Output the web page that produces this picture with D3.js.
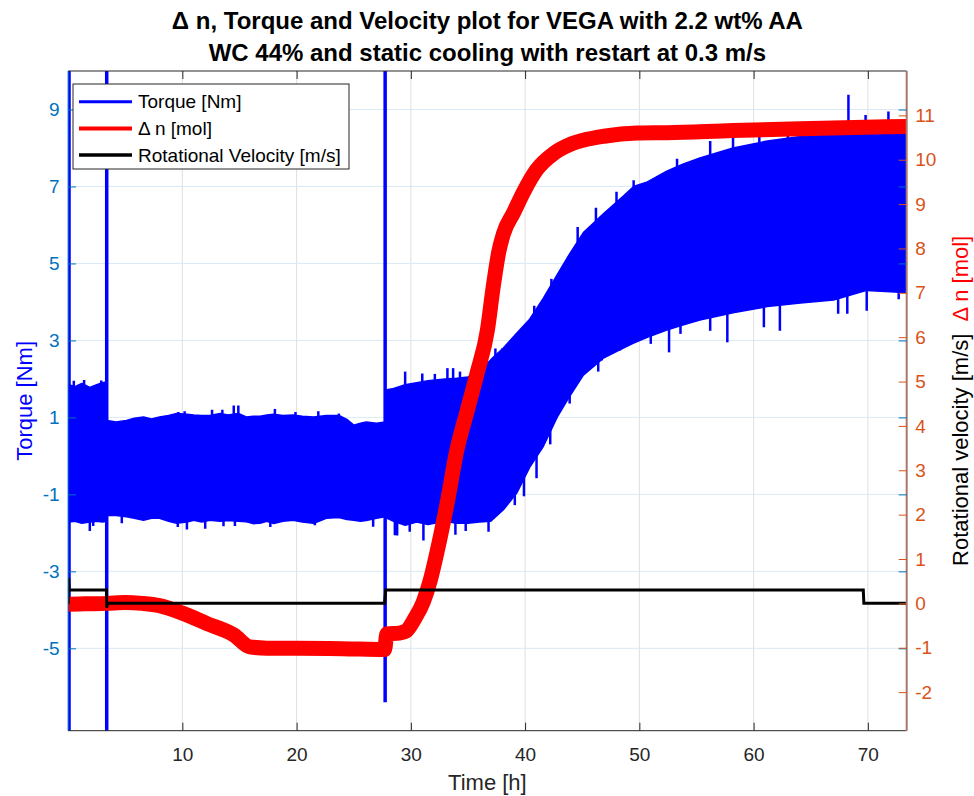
<!DOCTYPE html>
<html>
<head>
<meta charset="utf-8">
<script src="https://cdn.jsdelivr.net/npm/d3@7.9.0/dist/d3.min.js"></script>
<style>
  html, body { margin: 0; padding: 0; background: #fff; }
  svg { display: block; font-family: "Liberation Sans", Arial, sans-serif; }
</style>
</head>
<body>
<svg id="chart" width="974" height="796"></svg>
<script>
// Axis ticks
const timeTicks = [10, 20, 30, 40, 50, 60, 70];
const torqueTicks = [-5, -3, -1, 1, 3, 5, 7, 9];
const molTicks = [-2, -1, 0, 1, 2, 3, 4, 5, 6, 7, 8, 9, 10, 11];

// Torque noise band: [time h, low Nm, high Nm]
const torqueBand = [
  [0.08, -1.72, 1.85], [0.6, -1.70, 1.80], [1.2, -1.75, 1.88], [1.9, -1.72, 1.78],
  [2.5, -1.70, 1.85], [3.0, -1.72, 1.90], [3.37, -1.70, 1.92],
  [3.40, -1.55, 0.92], [4.2, -1.55, 0.88], [5.1, -1.58, 0.92], [5.8, -1.62, 0.98],
  [6.6, -1.67, 1.01], [7.3, -1.62, 0.96], [8.0, -1.62, 1.01], [8.8, -1.70, 1.05],
  [9.5, -1.75, 1.10], [10.4, -1.72, 1.08], [11.0, -1.67, 1.06], [11.7, -1.72, 1.05],
  [12.4, -1.67, 1.05], [13.3, -1.70, 1.10], [14.0, -1.68, 1.06], [14.9, -1.70, 1.10],
  [15.6, -1.71, 1.01], [16.2, -1.76, 1.03], [16.8, -1.75, 1.03], [17.4, -1.70, 1.06],
  [18.0, -1.76, 1.08], [18.8, -1.70, 1.05], [19.7, -1.67, 1.06], [20.5, -1.72, 1.03],
  [21.5, -1.75, 1.01], [22.6, -1.62, 1.05], [23.7, -1.60, 1.05], [24.4, -1.65, 0.95],
  [25.0, -1.67, 0.80], [25.6, -1.70, 0.85], [26.1, -1.68, 0.88], [27.0, -1.62, 0.85],
  [27.72, -1.58, 0.88],
  [27.78, -1.60, 1.71], [28.5, -1.70, 1.75], [29.5, -1.80, 1.85], [30.5, -1.72, 1.90],
  [31.5, -1.78, 1.95], [33.0, -1.70, 2.00], [34.0, -1.75, 2.02], [35.0, -1.75, 2.05],
  [36.0, -1.72, 2.20], [37.0, -1.70, 2.50], [38.1, -1.40, 2.80], [39.3, -0.95, 3.20],
  [40.4, -0.30, 3.55], [41.6, 0.25, 4.10], [42.8, 1.00, 4.70], [43.9, 1.55, 5.25],
  [45.1, 2.10, 5.80], [46.9, 2.55, 6.30], [48.6, 2.80, 6.75], [49.5, 2.93, 7.00],
  [50.7, 3.08, 7.12], [52.4, 3.27, 7.40], [53.8, 3.40, 7.58], [55.3, 3.53, 7.74],
  [58.2, 3.72, 8.00], [61.2, 3.88, 8.18], [64.1, 3.97, 8.30], [67.0, 4.05, 8.36],
  [69.9, 4.30, 8.46], [72.8, 4.25, 8.54], [73.4, 4.25, 8.55]
];

// Full-height torque spikes at the start/stop events: [time h, from Nm, to Nm]
const torqueJumps = [[0.08, -9, 12], [3.38, -9, 12], [27.75, -6.4, 12]];

// Tips of single upward torque spikes: [time h, Nm]
const spikesUp = [
  [0.5, 1.95], [1.4, 1.97], [2.9, 1.96], [9.65, 1.14], [10.2, 1.16], [12.6, 1.20],
  [13.5, 1.20], [14.5, 1.31], [14.9, 1.31], [18.1, 1.22], [19.9, 1.14], [21.9, 1.16],
  [23.7, 1.10], [29.5, 2.19], [31.0, 2.14], [32.1, 2.13], [33.2, 2.28], [33.7, 2.28],
  [34.3, 2.19], [37.4, 2.79], [38.0, 2.79], [38.4, 2.89], [39.1, 2.89], [40.8, 3.90],
  [42.3, 4.60], [44.6, 5.95], [46.2, 6.45], [48.0, 6.86], [49.5, 7.16], [53.3, 7.72],
  [56.2, 8.18], [58.2, 8.27], [60.5, 8.40], [63.0, 8.55], [66.0, 8.70], [68.3, 9.38],
  [69.8, 8.86], [71.8, 8.95]
];

// Tips of single downward torque spikes: [time h, Nm]
const spikesDown = [
  [1.9, -1.95], [2.2, -1.82], [4.7, -1.75], [9.6, -1.85], [10.4, -1.91], [12.0, -1.89],
  [13.6, -1.83], [14.6, -1.82], [17.7, -1.85], [21.6, -1.80], [26.7, -1.84],
  [28.6, -2.06], [28.8, -2.07], [29.9, -1.97], [31.1, -2.20], [32.6, -1.95],
  [33.9, -2.05], [34.8, -1.95], [36.8, -1.97], [39.1, -1.28], [39.9, -1.05],
  [41.0, -0.58], [42.2, 0.30], [43.9, 1.36], [44.7, 1.96], [46.4, 2.19], [46.7, 2.48],
  [48.3, 2.74], [51.0, 2.91], [52.6, 2.69], [53.6, 3.17], [56.2, 3.25], [57.7, 2.95],
  [60.9, 3.34], [62.3, 3.25], [67.4, 3.69], [68.2, 3.69], [69.9, 3.77], [72.7, 4.07]
];

// Delta n [mol]: [time h, mol]
const deltaN = [
  [0.0, -0.02], [1.5, -0.01], [3.4, 0.0], [5.0, 0.02], [6.5, 0.0], [8.0, -0.05],
  [10.0, -0.22], [12.1, -0.45], [14.5, -0.71], [15.9, -0.98], [17.4, -1.01],
  [20.0, -1.01], [24.0, -1.02], [27.7, -1.04], [27.9, -0.69], [29.0, -0.67],
  [29.6, -0.62], [30.3, -0.36], [31.1, 0.04], [31.7, 0.52], [32.3, 1.17],
  [33.2, 2.29], [34.0, 3.42], [34.9, 4.31], [35.8, 5.19], [36.7, 6.16], [37.2, 7.12],
  [37.7, 7.93], [38.1, 8.33], [39.0, 8.81], [39.9, 9.29], [41.0, 9.77], [42.5, 10.14],
  [43.9, 10.34], [45.4, 10.46], [46.9, 10.53], [49.8, 10.60], [52.4, 10.61],
  [58.2, 10.66], [64.1, 10.70], [73.4, 10.75]
];

// Rotational velocity [m/s]: [time h, m/s]
const velocity = [
  [0.0, -0.02], [0.05, 0.57], [0.1, 0.3], [3.36, 0.3], [3.38, -0.1], [3.45, 0.0],
  [27.7, 0.0], [27.8, 0.3], [69.6, 0.3], [69.65, 0.0], [73.4, 0.0]
];

const legendItems = [
  { label: 'Torque [Nm]', color: '#0000ff', w: 3 },
  { label: '\u0394 n [mol]', color: '#ff0000', w: 4 },
  { label: 'Rotational Velocity [m/s]', color: '#000000', w: 3.5 }
];

const width = 974;
const height = 796;
const margin = { top: 71, right: 67.3, bottom: 65.3, left: 68.1 };

const blueAxis = '#0072bd';
const orangeAxis = '#d95319';
const dark = '#262626';
const fmt = (d) => String(d); // plain hyphen minus like the original

const svg = d3.select('#chart');

const x = d3.scaleLinear().domain([0, 73.4]).range([margin.left, width - margin.right]);
const yL = d3.scaleLinear().domain([-7.14, 10]).range([height - margin.bottom, margin.top]);
const yR = d3.scaleLinear().domain([-2.87, 12]).range([height - margin.bottom, margin.top]);

const x0 = margin.left, x1 = width - margin.right;
const y0 = margin.top, y1 = height - margin.bottom;

svg.append('defs').append('clipPath').attr('id', 'plot-clip')
  .append('rect').attr('x', x0).attr('y', y0).attr('width', x1 - x0).attr('height', y1 - y0);

// Grid
const grid = svg.append('g');
grid.selectAll('line.vx').data(timeTicks).join('line')
  .attr('x1', (d) => x(d)).attr('x2', (d) => x(d)).attr('y1', y0).attr('y2', y1)
  .attr('stroke', '#dfdfdf').attr('stroke-width', 1);
grid.selectAll('line.hy').data(torqueTicks).join('line')
  .attr('x1', x0).attr('x2', x1).attr('y1', (d) => yL(d)).attr('y2', (d) => yL(d))
  .attr('stroke', '#d9eaf5').attr('stroke-width', 1);

// Data
const plot = svg.append('g').attr('clip-path', 'url(#plot-clip)');

plot.append('path')
  .datum(torqueBand)
  .attr('d', d3.area().x((d) => x(d[0])).y0((d) => yL(d[1])).y1((d) => yL(d[2])))
  .attr('fill', '#0000ff')
  .attr('stroke', '#0000ff').attr('stroke-width', 1.5).attr('stroke-linejoin', 'round');

plot.selectAll('line.up').data(spikesUp).join('line')
  .attr('x1', (d) => x(d[0])).attr('x2', (d) => x(d[0]))
  .attr('y1', (d) => yL(d[1])).attr('y2', (d) => yL(d[1] - 1))
  .attr('stroke', '#0000ff').attr('stroke-width', 2.5);

plot.selectAll('line.down').data(spikesDown).join('line')
  .attr('x1', (d) => x(d[0])).attr('x2', (d) => x(d[0]))
  .attr('y1', (d) => yL(d[1])).attr('y2', (d) => yL(d[1] + 1))
  .attr('stroke', '#0000ff').attr('stroke-width', 2.5);

plot.selectAll('line.jump').data(torqueJumps).join('line')
  .attr('x1', (d) => x(d[0])).attr('x2', (d) => x(d[0]))
  .attr('y1', (d) => yL(d[1])).attr('y2', (d) => yL(d[2]))
  .attr('stroke', '#0000ff').attr('stroke-width', 3.5);

plot.append('path')
  .datum(deltaN)
  .attr('d', d3.line().x((d) => x(d[0])).y((d) => yR(d[1])).curve(d3.curveMonotoneX))
  .attr('fill', 'none')
  .attr('stroke', '#ff0000').attr('stroke-width', 15).attr('stroke-linejoin', 'round');

plot.append('path')
  .datum(velocity)
  .attr('d', d3.line().x((d) => x(d[0])).y((d) => yR(d[1])))
  .attr('fill', 'none')
  .attr('stroke', '#000000').attr('stroke-width', 3);

// Box edges
svg.append('line').attr('x1', x0).attr('x2', x1).attr('y1', y0).attr('y2', y0).attr('stroke', dark);
svg.append('line').attr('x1', x0).attr('x2', x1).attr('y1', y1).attr('y2', y1).attr('stroke', dark);
svg.append('line').attr('x1', x0).attr('x2', x0).attr('y1', y0).attr('y2', y1).attr('stroke', blueAxis);
svg.append('line').attr('x1', x1).attr('x2', x1).attr('y1', y0).attr('y2', y1)
  .attr('stroke', '#a8786a').attr('stroke-width', 2);

// Axes
const fontTick = 19;

const xAxis = svg.append('g')
  .attr('transform', `translate(0,${y1})`)
  .call(d3.axisBottom(x).tickValues(timeTicks).tickFormat(fmt).tickSize(-8).tickSizeOuter(0).tickPadding(16.5));
xAxis.select('.domain').remove();
xAxis.selectAll('line').attr('stroke', dark);
xAxis.selectAll('text').attr('fill', dark).style('font-size', fontTick + 'px');

const xTop = svg.append('g')
  .attr('transform', `translate(0,${y0})`)
  .call(d3.axisTop(x).tickValues(timeTicks).tickSize(-8).tickSizeOuter(0).tickFormat(''));
xTop.select('.domain').remove();
xTop.selectAll('line').attr('stroke', dark);

const yAxisL = svg.append('g')
  .attr('transform', `translate(${x0},0)`)
  .call(d3.axisLeft(yL).tickValues(torqueTicks).tickFormat(fmt).tickSize(-8).tickSizeOuter(0).tickPadding(8.5));
yAxisL.select('.domain').remove();
yAxisL.selectAll('line').attr('stroke', blueAxis);
yAxisL.selectAll('text').attr('fill', blueAxis).style('font-size', fontTick + 'px');

const yAxisRMirror = svg.append('g')
  .attr('transform', `translate(${x1},0)`)
  .call(d3.axisRight(yL).tickValues(torqueTicks).tickSize(-8).tickSizeOuter(0).tickFormat(''));
yAxisRMirror.select('.domain').remove();
yAxisRMirror.selectAll('line').attr('stroke', blueAxis);

const yAxisR = svg.append('g')
  .attr('transform', `translate(${x1},0)`)
  .call(d3.axisRight(yR).tickValues(molTicks).tickFormat(fmt).tickSize(-8).tickSizeOuter(0).tickPadding(8.5));
yAxisR.select('.domain').remove();
yAxisR.selectAll('line').attr('stroke', orangeAxis);
yAxisR.selectAll('text').attr('fill', orangeAxis).style('font-size', fontTick + 'px');

// Axis labels
svg.append('text')
  .attr('x', (x0 + x1) / 2).attr('y', 790)
  .attr('text-anchor', 'middle').attr('fill', dark)
  .style('font-size', '22px')
  .text('Time [h]');

svg.append('text')
  .attr('transform', `translate(32,${(y0 + y1) / 2}) rotate(-90)`)
  .attr('text-anchor', 'middle').attr('fill', '#0000ff')
  .style('font-size', '22px')
  .text('Torque [Nm]');

const rLabel = svg.append('text')
  .attr('transform', `translate(968,${(y0 + y1) / 2}) rotate(-90)`)
  .attr('text-anchor', 'middle')
  .style('font-size', '22px')
  .style('white-space', 'pre');
rLabel.append('tspan').attr('fill', '#000000').text('Rotational velocity [m/s]  ');
rLabel.append('tspan').attr('fill', '#ff0000').text('\u0394 n [mol]');

// Title
const title = svg.append('text')
  .attr('text-anchor', 'middle').attr('fill', '#000')
  .style('font-size', '24px').style('font-weight', 'bold');
title.append('tspan').attr('x', (x0 + x1) / 2).attr('y', 29)
  .text('\u0394 n, Torque and Velocity plot for VEGA with 2.2 wt% AA');
title.append('tspan').attr('x', (x0 + x1) / 2).attr('y', 61)
  .text('WC 44% and static cooling with restart at 0.3 m/s');

// Legend
const legend = svg.append('g');
legend.append('rect')
  .attr('x', 73).attr('y', 84).attr('width', 276).attr('height', 85)
  .attr('fill', '#fff').attr('stroke', dark).attr('stroke-width', 1);
const rows = legend.selectAll('g.row').data(legendItems).join('g')
  .attr('transform', (d, i) => `translate(0,${101.7 + i * 26.7})`);
rows.append('line')
  .attr('x1', 79).attr('x2', 132).attr('y1', 0).attr('y2', 0)
  .attr('stroke', (d) => d.color).attr('stroke-width', (d) => d.w);
rows.append('text')
  .attr('x', 138).attr('dy', '0.35em').attr('fill', '#000')
  .style('font-size', '19px')
  .text((d) => d.label);
</script>
</body>
</html>
